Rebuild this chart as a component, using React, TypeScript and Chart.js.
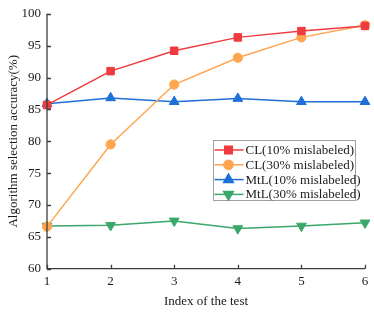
import React, { useEffect, useRef } from "react";
import { Chart, registerables } from "chart.js";
import { drawPoint } from "chart.js/helpers";

Chart.register(...registerables);

const categories = ["1", "2", "3", "4", "5", "6"];
const cl10 = [85.7, 91.0, 94.2, 96.3, 97.3, 98.1];
const cl30 = [66.6, 79.5, 88.9, 93.1, 96.3, 98.2];
const mtl10 = [85.9, 86.8, 86.2, 86.7, 86.2, 86.2];
const mtl30 = [66.7, 66.8, 67.5, 66.3, 66.7, 67.2];
const seriesLabels = [
  "CL(10% mislabeled)",
  "CL(30% mislabeled)",
  "MtL(10% mislabeled)",
  "MtL(30% mislabeled)",
];
const yTicks = [60, 65, 70, 75, 80, 85, 90, 95, 100];

const FONT = "'Liberation Serif', 'DejaVu Serif', serif";
const AXIS = "#3c3c3c";

const innerTicks = {
  id: "innerTicks",
  afterDraw(chart: any) {
    const ctx = chart.ctx;
    const xs = chart.scales.x;
    const ys = chart.scales.y;
    const a = chart.chartArea;
    ctx.save();
    ctx.strokeStyle = AXIS;
    ctx.lineWidth = 1.3;
    ctx.beginPath();
    ctx.moveTo(a.left, a.top);
    ctx.lineTo(a.left, a.bottom);
    ctx.lineTo(a.right, a.bottom);
    ctx.stroke();
    ctx.beginPath();
    for (const v of yTicks) {
      const y = Math.round(ys.getPixelForValue(v)) + 0.5;
      ctx.moveTo(a.left, y);
      ctx.lineTo(a.left + 4, y);
    }
    for (let i = 0; i < categories.length; i++) {
      const x = Math.round(xs.getPixelForValue(i)) + 0.5;
      ctx.moveTo(x, a.bottom);
      ctx.lineTo(x, a.bottom - 4);
    }
    ctx.stroke();
    ctx.restore();
  },
};

const boxLegend = {
  id: "boxLegend",
  afterDraw(chart: any) {
    const ctx = chart.ctx;
    const left = 213.5;
    const top = 140.5;
    const w = 142;
    const h = 60;
    ctx.save();
    ctx.fillStyle = "#ffffff";
    ctx.fillRect(left, top, w, h);
    ctx.strokeStyle = "#a0a0a0";
    ctx.lineWidth = 1;
    ctx.strokeRect(left, top, w, h);
    ctx.font = "13px " + FONT;
    ctx.textBaseline = "middle";
    ctx.textAlign = "left";
    chart.data.datasets.forEach((ds: any, i: number) => {
      const y = 150 + i * 14.8;
      ctx.strokeStyle = ds.borderColor;
      ctx.lineWidth = 1.5;
      ctx.beginPath();
      ctx.moveTo(left + 1, y);
      ctx.lineTo(left + 30, y);
      ctx.stroke();
      ctx.fillStyle = ds.pointBackgroundColor;
      ctx.strokeStyle = ds.borderColor;
      drawPoint(ctx, {
        pointStyle: ds.pointStyle,
        radius: ds.pointRadius,
        rotation: ds.pointRotation || 0,
        borderWidth: 1,
      } as any, left + 15, y);
      ctx.fillStyle = "#1a1a1a";
      ctx.fillText(ds.label, left + 32, y + 0.5);
    });
    ctx.restore();
  },
};

export default function App() {
  const ref = useRef<HTMLCanvasElement | null>(null);
  useEffect(() => {
    if (!ref.current) return;
    const mk = (label: string, data: number[], color: string, style: string, r: number, rot = 0) => ({
      label,
      data,
      borderColor: color,
      backgroundColor: color,
      pointBackgroundColor: color,
      pointBorderColor: color,
      pointStyle: style,
      pointRadius: r,
      pointRotation: rot,
      borderWidth: 1.5,
      pointBorderWidth: 1,
      tension: 0,
    });
    const chart = new Chart(ref.current, {
      type: "line",
      data: {
        labels: categories,
        datasets: [
          mk(seriesLabels[0], cl10, "#ef3b3f", "rect", 5.3),
          mk(seriesLabels[1], cl30, "#ffa54f", "circle", 4.6),
          mk(seriesLabels[2], mtl10, "#1f6fd8", "triangle", 5.6),
          mk(seriesLabels[3], mtl30, "#3aa86a", "triangle", 5.6, 180),
        ] as any,
      },
      options: {
        responsive: false,
        animation: false,
        layout: { padding: { left: 0, top: 13, right: 9, bottom: 0 } },
        plugins: { legend: { display: false }, tooltip: { enabled: false } },
        scales: {
          x: {
            type: "category",
            offset: false,
            grid: { display: false, drawTicks: false },
            border: { display: false },
            ticks: { color: "#1a1a1a", font: { family: FONT, size: 13 }, padding: 5, maxRotation: 0 },
            title: {
              display: true,
              text: "Index of the test",
              color: "#1a1a1a",
              font: { family: FONT, size: 13 },
              padding: { top: 2, bottom: 5 },
            },
            afterFit(s: any) {
              s.height = 45.3;
            },
          },
          y: {
            min: 60,
            max: 100,
            grid: { display: false, drawTicks: false },
            border: { display: false },
            ticks: {
              stepSize: 5,
              color: "#1a1a1a",
              font: { family: FONT, size: 13 },
              padding: 6,
            },
            title: {
              display: true,
              text: "Algorithm selection accuracy(%)",
              color: "#1a1a1a",
              font: { family: FONT, size: 13 },
              padding: { top: 6, bottom: 2 },
            },
            afterFit(s: any) {
              s.width = 47;
            },
          },
        },
      },
      plugins: [innerTicks, boxLegend],
    });
    return () => chart.destroy();
  }, []);
  return (
    <div style={{ position: "fixed", left: 0, top: 0, width: 374, height: 314, background: "#fff" }}>
      <canvas ref={ref} width={374} height={314} style={{ display: "block" }} />
    </div>
  );
}
